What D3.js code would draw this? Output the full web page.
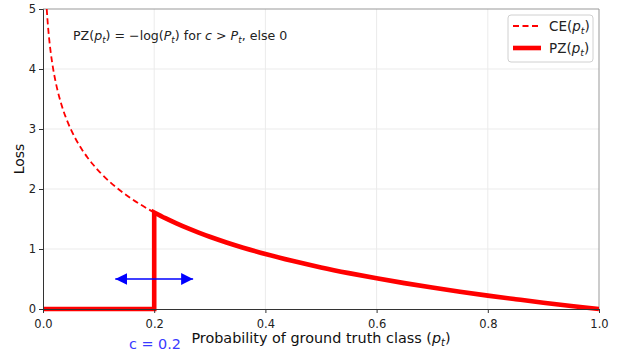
<!DOCTYPE html>
<html><head><meta charset="utf-8">
<script src="https://cdn.jsdelivr.net/npm/d3@7"></script>
<style>body{margin:0;background:#fff}svg{display:block;font-family:"DejaVu Sans",sans-serif}</style>
</head><body><svg id="c" width="617" height="356"></svg>
<script>
// probability of ground truth class and cross-entropy loss
const pValues = [0.0067,0.0075,0.009,0.011,0.0135,0.0165,0.02,0.025,0.03,0.035,0.04,0.05,0.06,0.07,0.08,0.09,0.1,0.12,0.14,0.16,0.18,0.2,0.22,0.24,0.26,0.28,0.3,0.33,0.36,0.4,0.45,0.5,0.55,0.6,0.65,0.7,0.75,0.8,0.85,0.9,0.95,1.0];
const ceLoss  = [5.0,4.893,4.711,4.510,4.305,4.104,3.912,3.689,3.507,3.352,3.219,2.996,2.813,2.659,2.526,2.408,2.303,2.120,1.966,1.833,1.715,1.609,1.514,1.427,1.347,1.273,1.204,1.109,1.022,0.916,0.799,0.693,0.598,0.511,0.431,0.357,0.288,0.223,0.163,0.105,0.051,0.0];
const cutoff = 0.2;
const arrowRange = [0.13, 0.27];
const arrowLevel = 0.5;
const xTicks = [0.0,0.2,0.4,0.6,0.8,1.0];
const yTicks = [0,1,2,3,4,5];

const svg = d3.select("#c");
const m = {l:43, r:599, t:9, b:309};
const x = d3.scaleLinear().domain([0,1]).range([m.l,m.r]);
const y = d3.scaleLinear().domain([0,5]).range([m.b,m.t]);

// grid
svg.append("g").selectAll("line").data(xTicks.slice(1,-1)).join("line")
  .attr("x1",d=>x(d)).attr("x2",d=>x(d)).attr("y1",m.t).attr("y2",m.b)
  .attr("stroke","#ebebeb").attr("stroke-width",1);
svg.append("g").selectAll("line").data(yTicks.slice(1,-1)).join("line")
  .attr("y1",d=>y(d)).attr("y2",d=>y(d)).attr("x1",m.l).attr("x2",m.r)
  .attr("stroke","#ebebeb").attr("stroke-width",1);

// frame top/right
svg.append("line").attr("x1",m.l).attr("x2",m.r).attr("y1",m.t).attr("y2",m.t).attr("stroke","#999");
svg.append("line").attr("x1",m.r).attr("x2",m.r).attr("y1",m.t).attr("y2",m.b).attr("stroke","#999");

svg.append("clipPath").attr("id","pc").append("rect")
  .attr("x",m.l).attr("y",m.t).attr("width",m.r-m.l).attr("height",m.b-m.t+3);

const ce = pValues.map((p,i)=>({p, l:ceLoss[i]}));
const line = d3.line().x(d=>x(d.p)).y(d=>y(d.l)).curve(d3.curveCatmullRom);

svg.append("path").attr("d",line(ce)).attr("fill","none").attr("stroke","#ff0000")
  .attr("stroke-width",1.8).attr("stroke-dasharray","6,3.5").attr("clip-path","url(#pc)");

const pz = ce.filter(d=>d.p>=cutoff);
const pzPath = `M${x(0)},${y(0)}L${x(cutoff)},${y(0)}` + line(pz).replace(/^M/,"L");
svg.append("path").attr("d",pzPath).attr("fill","none").attr("stroke","#ff0000")
  .attr("stroke-width",4.6).attr("stroke-linejoin","miter").attr("clip-path","url(#pc)");

// arrow
const defs = svg.append("defs");
defs.append("marker").attr("id","ah").attr("viewBox","0 0 10 10").attr("refX",10).attr("refY",5)
  .attr("markerWidth",12).attr("markerHeight",12).attr("markerUnits","userSpaceOnUse").attr("orient","auto-start-reverse")
  .append("path").attr("d","M0,0L10,5L0,10Z").attr("fill","#0000ff");
svg.append("line").attr("x1",x(arrowRange[0])).attr("x2",x(arrowRange[1]))
  .attr("y1",y(arrowLevel)).attr("y2",y(arrowLevel)).attr("stroke","#0000ff").attr("stroke-width",1.3)
  .attr("marker-start","url(#ah)").attr("marker-end","url(#ah)");

// axes
const xa = svg.append("g").attr("transform",`translate(0,${m.b})`)
  .call(d3.axisBottom(x).tickValues(xTicks).tickFormat(d3.format(".1f")).tickSizeOuter(0).tickSize(4));
const ya = svg.append("g").attr("transform",`translate(${m.l},0)`)
  .call(d3.axisLeft(y).tickValues(yTicks).tickFormat(d3.format("d")).tickSizeOuter(0).tickSize(4));
[xa,ya].forEach(a=>{a.selectAll("text").attr("font-size",11.5).attr("font-family","DejaVu Sans").attr("fill","#222");
  a.selectAll("line").attr("stroke","#333"); a.select(".domain").attr("stroke","#333");});
xa.selectAll("text").attr("dy","1.0em");

function pt(sel, P){
  sel.append("tspan").attr("font-style","italic").text(P);
  sel.append("tspan").attr("font-style","italic").attr("font-size","0.7em").attr("dy","0.3em").text("t");
}
function after(sel, txt){
  return sel.append("tspan").attr("dy","-0.21em").text(txt);
}
const xl = svg.append("text").attr("x",(m.l+m.r)/2).attr("y",343).attr("text-anchor","middle")
  .attr("font-size",14.4).attr("fill","#111");
xl.append("tspan").text("Probability of ground truth class (");
pt(xl,"p"); after(xl,")");

svg.append("text").attr("transform",`translate(24,${(m.t+m.b)/2}) rotate(-90)`).attr("text-anchor","middle")
  .attr("font-size",14).attr("fill","#111").text("Loss");

svg.append("text").attr("x",155).attr("y",349).attr("text-anchor","middle").attr("font-size",14.4)
  .attr("fill","#3a3aff").text("c = 0.2");

const tt = svg.append("text").attr("x",73).attr("y",40).attr("font-size",12.6).attr("fill","#222");
tt.append("tspan").text("PZ("); pt(tt,"p"); after(tt,") = −log(");
pt(tt,"P"); after(tt,") for ");
tt.append("tspan").attr("font-style","italic").text("c"); tt.append("tspan").text(" > ");
pt(tt,"P"); after(tt,", else 0");

// legend
const lg = svg.append("g");
lg.append("rect").attr("x",508).attr("y",15).attr("width",85).attr("height",47).attr("rx",3)
  .attr("fill","#fff").attr("fill-opacity",0.8).attr("stroke","#d0d0d0");
lg.append("line").attr("x1",513).attr("x2",541).attr("y1",26).attr("y2",26).attr("stroke","#ff0000")
  .attr("stroke-width",1.8).attr("stroke-dasharray","6,3.5");
lg.append("line").attr("x1",513).attr("x2",541).attr("y1",48).attr("y2",48).attr("stroke","#ff0000").attr("stroke-width",4.6);
const l1 = lg.append("text").attr("x",549).attr("y",31).attr("font-size",13.5).attr("fill","#222");
l1.append("tspan").text("CE("); pt(l1,"p"); after(l1,")");
const l2 = lg.append("text").attr("x",549).attr("y",53).attr("font-size",13.5).attr("fill","#222");
l2.append("tspan").text("PZ("); pt(l2,"p"); after(l2,")");
</script></body></html>
